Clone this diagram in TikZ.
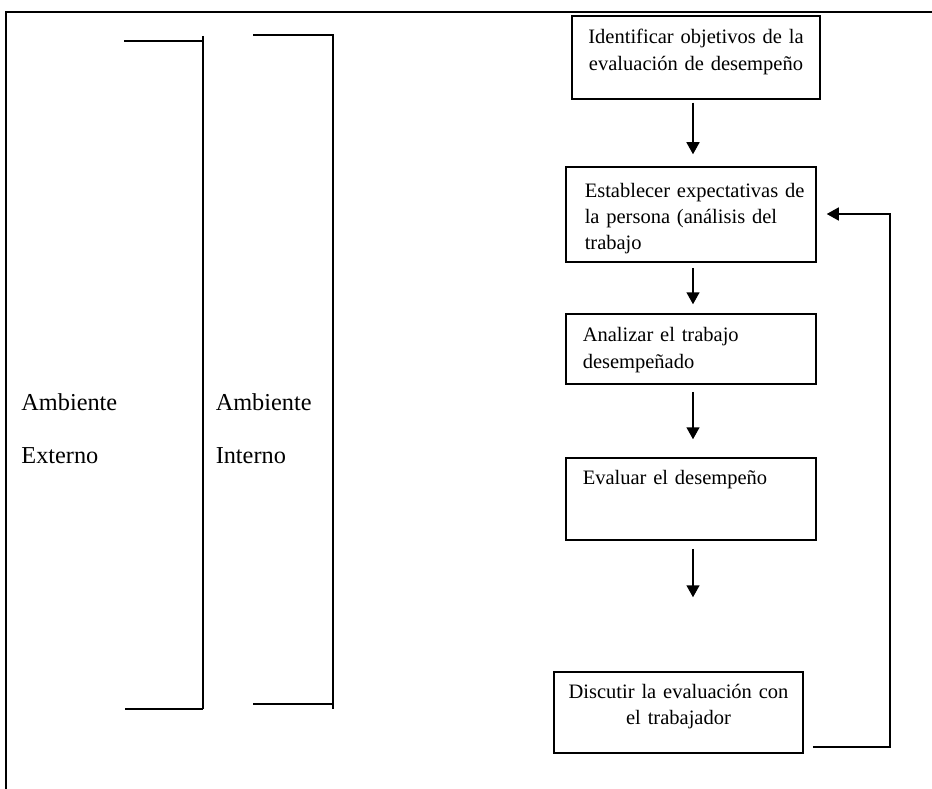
\documentclass[tikz,border=0pt]{standalone}
\usepackage{fontspec}
\setmainfont{Liberation Serif}
\usetikzlibrary{arrows.meta}

\begin{document}
\begin{tikzpicture}[x=1pt,y=-1pt,
  line width=1.5pt,
  stepbox/.style={draw, rectangle, inner sep=0pt},
  boxtext/.style={inner sep=0pt, font=\fontsize{20.5}{26.3}\selectfont},
  envtext/.style={inner sep=0pt, anchor=base west, align=left, text width=110pt,
    font=\fontsize{24.3}{53}\selectfont},
  arr/.style={-{Triangle[length=12pt,width=13pt]}},
]
\useasboundingbox (0,0) rectangle (932,789);

% outer frame (top and left edges only)
\draw (6,789) -- (6,12) -- (932,12);

% environment brackets
\draw (124,41) -- (203,41);
\draw (203,36) -- (203,709);
\draw (125,709) -- (203,709);
\draw (253,35) -- (333,35) -- (333,709);
\draw (253,704) -- (333,704);

\node[envtext] (ext) at (20.7,410) {Ambiente\\Externo};
\node[envtext] (int) at (215,410) {Ambiente\\Interno};

% process boxes
\node[stepbox, minimum width=248pt, minimum height=83pt] (b1) at (696,57.5) {};
\node[stepbox, minimum width=250pt, minimum height=95pt] (b2) at (691,214.5) {};
\node[stepbox, minimum width=250pt, minimum height=70pt] (b3) at (691,349) {};
\node[stepbox, minimum width=250pt, minimum height=82pt] (b4) at (691,499) {};
\node[stepbox, minimum width=249pt, minimum height=81pt] (b5) at (678.5,712.5) {};

% box texts
\node[boxtext, anchor=base, text width=246pt, align=center] (t1) at (696,44)
  {Identificar objetivos de la\\evaluación de desempeño};
\node[boxtext, anchor=base west, text width=230pt, align=left] (t2) at (584,197)
  {Establecer expectativas de\\la persona (análisis del\\trabajo};
\node[boxtext, anchor=base west, text width=230pt, align=left] (t3) at (582,341.7)
  {Analizar el trabajo\\desempeñado};
\node[boxtext, anchor=base west, text width=230pt, align=left] (t4) at (582,484)
  {Evaluar el desempeño};
\node[boxtext, anchor=base, text width=246pt, align=center] (t5) at (678.5,698)
  {Discutir la evaluación con\\el trabajador};

% downward arrows
\coordinate (ax) at (693,0);
\draw[arr, shorten <=3pt, shorten >=12pt] (b1.south -| ax) -- (b2.north -| ax);
\draw[arr, shorten <=5pt, shorten >=9pt]  (b2.south -| ax) -- (b3.north -| ax);
\draw[arr, shorten <=7pt, shorten >=18pt] (b3.south -| ax) -- (b4.north -| ax);
\draw[arr, shorten <=8pt, shorten >=74pt] (b4.south -| ax) -- (b5.north -| ax);

% feedback loop
\coordinate (fb) at (890,747);
\coordinate (fbtop) at (890,214);
\draw[arr, shorten <=9pt, shorten >=10pt]
  (b5.east |- fb) -- (fb) -- (fbtop) -- (b2.east |- fbtop);
\end{tikzpicture}
\end{document}
